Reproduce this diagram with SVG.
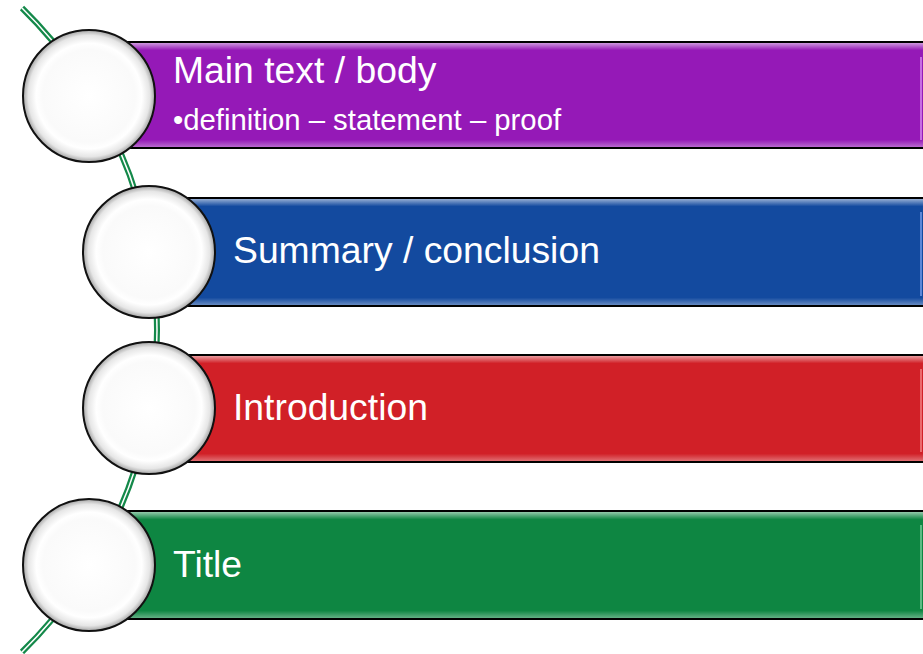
<svg xmlns="http://www.w3.org/2000/svg" width="923" height="654" viewBox="0 0 923 654">
<defs>
<radialGradient id="ball" cx="0.5" cy="0.5" r="0.5">
<stop offset="0" stop-color="#ffffff"/>
<stop offset="0.7" stop-color="#fafafa"/>
<stop offset="0.8" stop-color="#ffffff"/>
<stop offset="0.92" stop-color="#e6e6e6"/>
<stop offset="1" stop-color="#a4a4a4"/>
</radialGradient>
<linearGradient id="sheen" x1="0" y1="0" x2="0" y2="1">
<stop offset="0" stop-color="#ffffff" stop-opacity="0.55"/>
<stop offset="0.07" stop-color="#ffffff" stop-opacity="0"/>
<stop offset="0.93" stop-color="#ffffff" stop-opacity="0"/>
<stop offset="1" stop-color="#ffffff" stop-opacity="0.35"/>
</linearGradient>
</defs>
<style>
.bar{stroke:#000;stroke-width:2}
.sh{fill:url(#sheen)}
.ball{fill:url(#ball);stroke:#111;stroke-width:2}
.t{font-family:"Liberation Sans",Arial,sans-serif;fill:#fff;font-size:37.3px}
.s{font-family:"Liberation Sans",Arial,sans-serif;fill:#fff;font-size:29.3px}
.edge{stroke-width:2;opacity:0.6}
</style>
<rect width="923" height="654" fill="#fff"/>
<g id="connectors">
<path d="M22,8 A451.5,451.5 0 0 1 22,652" fill="none" stroke="#14894a" stroke-width="6"/>
<path d="M22,8 A451.5,451.5 0 0 1 22,652" fill="none" stroke="#ffffff" stroke-width="1.5"/>
</g>
<g id="node-main">
<rect class="bar" x="110" y="42" width="850" height="106" fill="#9519b7"/>
<rect class="sh" x="111" y="43" width="848" height="104"/>
<line x1="921" y1="57" x2="921" y2="140" stroke="#e9a6ff" class="edge"/>
<circle class="ball" cx="89" cy="96" r="66"/>
<text class="t" x="173" y="83">Main text / body</text>
<text class="s" x="173" y="130">•definition – statement – proof</text>
</g>
<g id="node-summary">
<rect class="bar" x="170" y="198" width="790" height="108" fill="#134a9f"/>
<rect class="sh" x="171" y="199" width="788" height="106"/>
<line x1="921" y1="212" x2="921" y2="296" stroke="#8fb0ff" class="edge"/>
<circle class="ball" cx="149" cy="252" r="66"/>
<text class="t" x="233" y="263">Summary / conclusion</text>
</g>
<g id="node-intro">
<rect class="bar" x="170" y="355" width="790" height="107" fill="#d12027"/>
<rect class="sh" x="171" y="356" width="788" height="105"/>
<line x1="921" y1="369" x2="921" y2="452" stroke="#ff9a9a" class="edge"/>
<circle class="ball" cx="149" cy="408" r="66"/>
<text class="t" x="233" y="420">Introduction</text>
</g>
<g id="node-title">
<rect class="bar" x="110" y="511" width="850" height="108" fill="#0e8642"/>
<rect class="sh" x="111" y="512" width="848" height="106"/>
<line x1="921" y1="525" x2="921" y2="609" stroke="#8fe0b0" class="edge"/>
<circle class="ball" cx="89" cy="565" r="66"/>
<text class="t" x="173" y="577">Title</text>
</g>
</svg>
